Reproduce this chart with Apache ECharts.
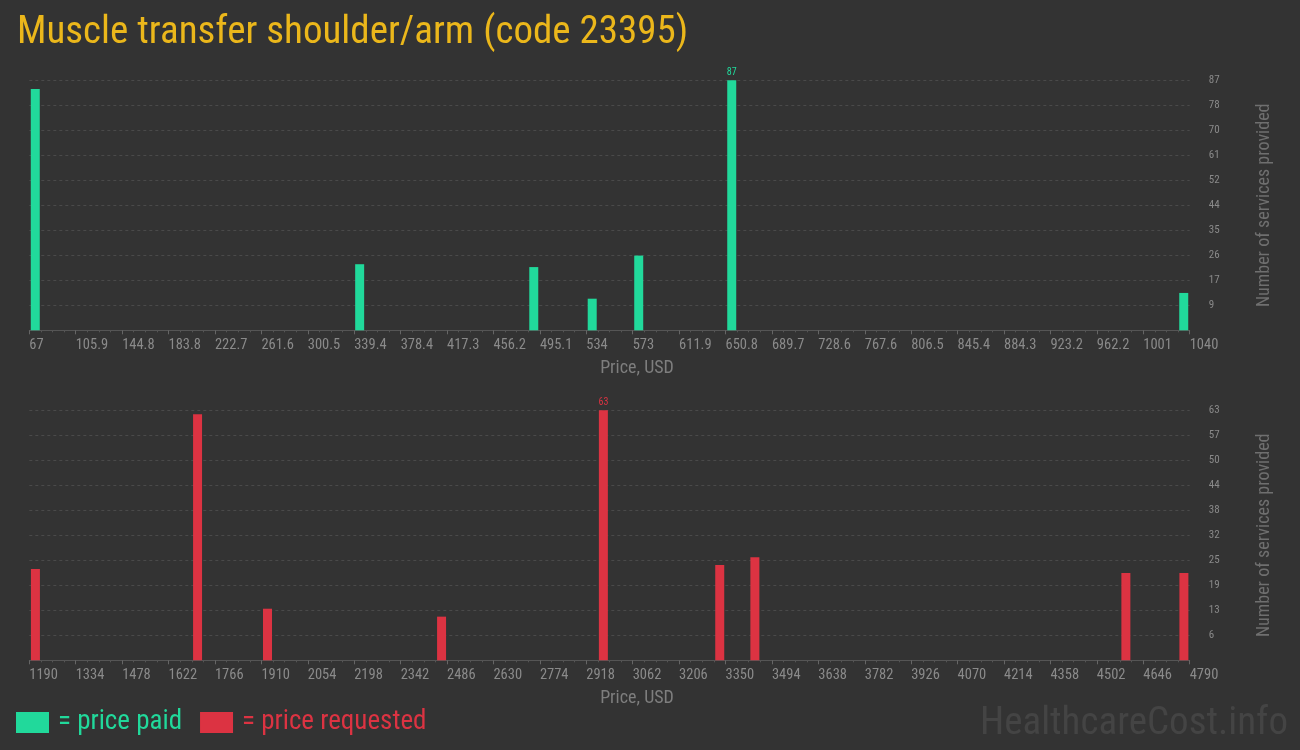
<!DOCTYPE html>
<html>
<head>
<meta charset="utf-8">
<script src="https://cdn.jsdelivr.net/npm/echarts@6/dist/echarts.min.js"></script>
<style>
html,body{margin:0;padding:0;background:#333333;}
#c{width:1300px;height:750px;}
</style>
</head>
<body>
<div id="c"></div>
<script>
// ---- data ----
const titleText = 'Muscle transfer shoulder/arm (code 23395)';
const paidPrices = [72, 344, 490, 539, 578, 656, 1035];
const paidCounts = [84, 23, 22, 11, 26, 87, 13];
const requestedPrices = [1209, 1712, 1929, 2469, 2971, 3332, 3441, 4592, 4772];
const requestedCounts = [23, 62, 13, 11, 63, 24, 26, 22, 22];
const paidTickLabels = ['67','105.9','144.8','183.8','222.7','261.6','300.5','339.4','378.4','417.3','456.2','495.1','534','573','611.9','650.8','689.7','728.6','767.6','806.5','845.4','884.3','923.2','962.2','1001','1040'];
const requestedTickLabels = ['1190','1334','1478','1622','1766','1910','2054','2198','2342','2486','2630','2774','2918','3062','3206','3350','3494','3638','3782','3926','4070','4214','4358','4502','4646','4790'];
const paidYTickLabels = ['9','17','26','35','44','52','61','70','78','87'];
const requestedYTickLabels = ['6','13','19','25','32','38','44','50','57','63'];
const paidRange = [67, 1040];
const requestedRange = [1190, 4790];
const paidMax = 87;
const requestedMax = 63;

// ---- style ----
const GREEN = '#21d99b';
const RED = '#dc3342';
const FONT = "'Roboto Condensed','Liberation Sans Narrow','DejaVu Sans Condensed','Roboto',sans-serif";
const LABEL = '#8a8a8a';

function toSteps(prices, range, labels) {
  const steps = labels.length - 1;
  const step = (range[1] - range[0]) / steps;
  return prices.map(p => (p - range[0]) / step);
}
function seriesData(prices, counts, range, labels) {
  const xs = toSteps(prices, range, labels);
  const mx = Math.max.apply(null, counts);
  return xs.map((x, i) => ({
    value: [x, counts[i]],
    label: { show: counts[i] === mx }
  }));
}

function xAxis(gridIndex, labels) {
  return {
    type: 'value', gridIndex, min: 0, max: labels.length - 1, interval: 1,
    name: 'Price, USD', nameLocation: 'middle', nameGap: 29,
    nameTextStyle: { color: '#7e7e7e', fontSize: 18, fontFamily: FONT, padding: [0, 0, 0, 55] },
    axisLine: { lineStyle: { color: '#555555' } },
    axisTick: { show: true, length: 4, lineStyle: { color: '#666666' } },
    minorTick: { show: true, splitNumber: 4, length: 2, lineStyle: { color: '#555555' } },
    splitLine: { show: false },
    axisLabel: {
      color: LABEL, fontSize: 14.5, fontFamily: FONT, margin: 8, align: 'left',
      formatter: v => labels[Math.round(v)] !== undefined ? labels[Math.round(v)] : ''
    }
  };
}
function yAxis(gridIndex, max, labels) {
  const interval = max / labels.length;
  return {
    type: 'value', gridIndex, position: 'right', min: 0, max: max, interval: interval,
    name: 'Number of services provided', nameLocation: 'middle', nameGap: 66, nameRotate: 90,
    nameTextStyle: { color: '#6f6f6f', fontSize: 18, fontFamily: FONT },
    axisLine: { show: false }, axisTick: { show: false },
    splitLine: { show: true, lineStyle: { color: '#4a4a4a', type: [3, 3], width: 1 } },
    axisLabel: {
      color: LABEL, fontSize: 11, fontFamily: FONT, margin: 19,
      formatter: v => { const i = Math.round(v / interval) - 1; return i >= 0 ? labels[i] : ''; }
    }
  };
}

const chart = echarts.init(document.getElementById('c'));
chart.setOption({
  backgroundColor: '#333333',
  animation: false,
  title: {
    text: titleText, left: 12, top: 9,
    textStyle: { color: '#ebb71b', fontSize: 39, fontWeight: 'normal', fontFamily: FONT }
  },
  legend: {
    left: 16, bottom: 14, padding: 0, itemWidth: 33, itemHeight: 21, itemGap: 18,
    icon: 'rect', selectedMode: false,
    textStyle: { fontSize: 27, fontFamily: FONT, padding: [0, 0, 0, 4] },
    data: [
      { name: '= price paid', textStyle: { color: GREEN } },
      { name: '= price requested', textStyle: { color: RED } }
    ]
  },
  graphic: [{
    type: 'text', right: 12, bottom: 6,
    style: { text: 'HealthcareCost.info', fill: '#444444', fontSize: 39, fontFamily: FONT }
  }],
  grid: [
    { left: 29.3, right: 110.3, top: 80.3, height: 250 },
    { left: 29.3, right: 110.3, top: 410.3, height: 250 }
  ],
  xAxis: [xAxis(0, paidTickLabels), xAxis(1, requestedTickLabels)],
  yAxis: [yAxis(0, paidMax, paidYTickLabels), yAxis(1, requestedMax, requestedYTickLabels)],
  series: [
    {
      name: '= price paid', type: 'bar', xAxisIndex: 0, yAxisIndex: 0, barWidth: 9,
      itemStyle: { color: GREEN },
      label: { position: 'top', color: GREEN, fontSize: 10, fontFamily: FONT, distance: 3 },
      data: seriesData(paidPrices, paidCounts, paidRange, paidTickLabels)
    },
    {
      name: '= price requested', type: 'bar', xAxisIndex: 1, yAxisIndex: 1, barWidth: 9,
      itemStyle: { color: RED },
      label: { position: 'top', color: RED, fontSize: 10, fontFamily: FONT, distance: 3 },
      data: seriesData(requestedPrices, requestedCounts, requestedRange, requestedTickLabels)
    }
  ]
});
</script>
</body>
</html>
